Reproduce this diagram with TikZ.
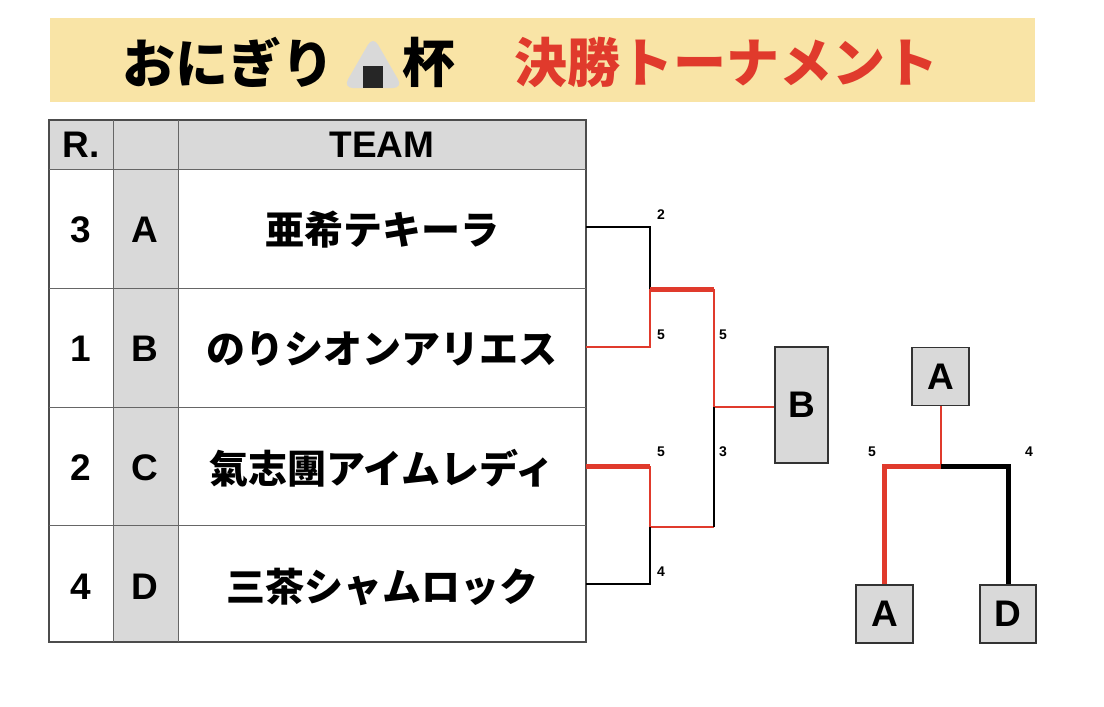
\documentclass[tikz,border=0pt]{standalone}
\usepackage{fontspec}
\setmainfont{Liberation Sans}
\newfontfamily\cjk{Noto Sans CJK JP}
\definecolor{band}{HTML}{F9E4A6}
\definecolor{win}{HTML}{E03A2C}
\definecolor{cell}{HTML}{D9D9D9}
\begin{document}
\begin{tikzpicture}[x=1pt,y=-1pt,
  headtxt/.style={font=\cjk\bfseries\fontsize{53}{53}\selectfont,anchor=west,inner sep=0pt},
  teamtxt/.style={font=\cjk\bfseries\fontsize{39}{39}\selectfont},
  big/.style={font=\bfseries\fontsize{37}{37}\selectfont},
  score/.style={font=\bfseries\fontsize{14}{14}\selectfont},
  box/.style={draw=black!80,fill=cell,line width=1.2pt},
  lose/.style={line width=2pt},
  lose2/.style={line width=5pt},
  won/.style={win,line width=2pt},
  won2/.style={win,line width=5pt}]
\useasboundingbox (0,0) rectangle (1104,707);
% title
\fill[band] (50,18) rectangle (1035,102);
\node[headtxt] (t1) at (122,62) {おにぎり};
\node[headtxt] (t2) at (402,62) {杯};
\node[headtxt,text=win] (t3) at (514,62) {決勝トーナメント};
\fill[black!15,rounded corners=10pt] (343,88) -- (373,36) -- (403,88) -- cycle;
\fill[black!85] (363,66) rectangle (383,88);
% table
\fill[cell] (49,120) rectangle (586,169);
\fill[cell] (113,169) rectangle (178,642);
\draw[black!70,line width=1.2pt] (49,120) rectangle (586,642);
\foreach \y in {169,288,407,525}
  \draw[black!60,line width=1pt] (49,\y) -- (586,\y);
\foreach \x in {113,178}
  \draw[black!60,line width=1pt] (\x,120) -- (\x,642);
\node[big] (hr) at (81,145) {R.};
\node[big] (ht) at (382,145) {TEAM};
\foreach \r/\l/\t [count=\i] in {3/A/亜希テキーラ,1/B/のりシオンアリエス,2/C/氣志團アイムレディ,4/D/三茶シャムロック}{
  \node[big] (r\i) at (81,111+119*\i) {\r};
  \node[big] (l\i) at (145,111+119*\i) {\l};
  \node[teamtxt] (n\i) at (382,111+119*\i) {\t};
}
% bracket
\coordinate (a0) at (586,227); \coordinate (a1) at (650,227);
\coordinate (b0) at (586,347); \coordinate (b1) at (650,347);
\coordinate (c0) at (586,466); \coordinate (c1) at (650,466);
\coordinate (d0) at (586,584); \coordinate (d1) at (650,584);
\coordinate (ab) at (650,289); \coordinate (ab1) at (714,289);
\coordinate (cd) at (650,527); \coordinate (cd1) at (714,527);
\coordinate (fin) at (714,407);
\node[box,minimum width=53pt,minimum height=116pt,big] (champ) at (801.5,405) {B};
\draw[lose] (a0) -- (a1) -- (ab);
\draw[won] (b0) -- (b1) -- (ab);
\draw[won2] (ab) -- (ab1);
\draw[won] (ab1) -- (fin) -- (fin -| champ.west);
\draw[won2] (c0) -- (c1);
\draw[won] (c1) -- (cd) -- (cd1);
\draw[lose] (cd1) -- (fin);
\draw[lose] (d0) -- (d1) -- (cd);
\node[score] (s1) at (661,215) {2};
\node[score] (s2) at (661,335) {5};
\node[score] (s3) at (723,335) {5};
\node[score] (s4) at (661,452) {5};
\node[score] (s5) at (723,452) {3};
\node[score] (s6) at (661,572) {4};
% third place
\node[box,minimum width=57pt,minimum height=58pt,big] (p3) at (940.5,376.5) {A};
\node[box,minimum width=57pt,minimum height=58pt,big] (pa) at (884.5,614) {A};
\node[box,minimum width=56pt,minimum height=58pt,big] (pd) at (1008,614) {D};
\coordinate (pj) at (940.5,466);
\draw[won] (p3) -- (pj);
\draw[won2] (pj) -| (pa);
\draw[lose2] (pj) -| (pd);
\node[score] (s7) at (872,452) {5};
\node[score] (s8) at (1029,452) {4};
\end{tikzpicture}
\end{document}
